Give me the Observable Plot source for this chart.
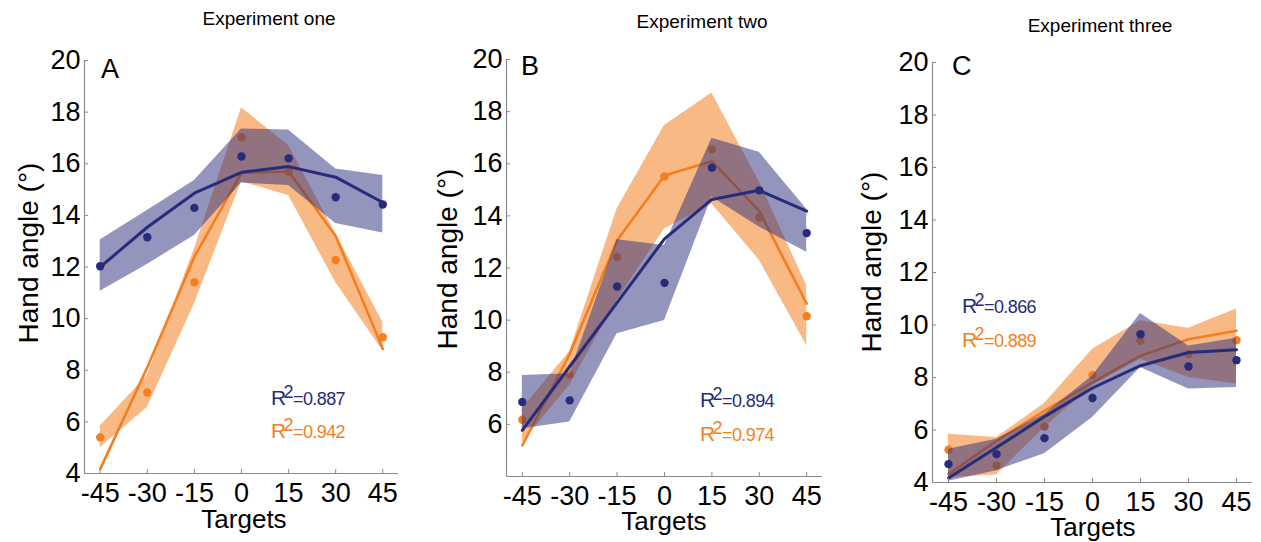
<!DOCTYPE html>
<html>
<head>
<meta charset="utf-8">
<script src="https://cdn.jsdelivr.net/npm/d3@7"></script>
<script src="https://cdn.jsdelivr.net/npm/@observablehq/plot@0.6"></script>
<style>
  html, body { margin: 0; padding: 0; background: #fff; }
  #wrap { position: relative; width: 1261px; height: 542px; overflow: hidden; }
  #wrap > svg { position: absolute; top: 0; }
</style>
</head>
<body>
<div id="wrap"></div>
<script>
// ---------- data ----------
const targets = [-45, -30, -15, 0, 15, 30, 45];

// Experiment one (A)
const blueDotsA   = [12.03, 13.15, 14.29, 16.28, 16.21, 14.70, 14.42];
const blueFitA    = [12.00, 13.54, 14.86, 15.67, 15.89, 15.48, 14.50];
const blueHiA     = [13.05, 14.19, 15.35, 17.35, 17.31, 15.80, 15.54];
const blueLoA     = [11.06, 12.10, 13.22, 15.25, 15.16, 13.69, 13.32];
const orangeDotsA = [5.40, 7.14, 11.41, 17.03, 15.70, 12.27, 9.28];
const orangeFitA  = [4.17, 8.11, 12.40, 15.65, 15.70, 13.20, 8.83];
const orangeHiA   = [5.83, 7.80, 12.70, 18.17, 16.71, 13.30, 9.86];
const orangeLoA   = [5.00, 6.56, 10.57, 15.30, 14.77, 11.40, 8.76];

// Experiment two (B)
const blueDotsB   = [6.86, 6.92, 11.29, 11.43, 15.85, 14.98, 13.34];
const blueFitB    = [5.77, 8.22, 10.67, 13.12, 14.63, 14.98, 14.18];
const blueHiB     = [7.88, 7.94, 13.08, 12.86, 16.98, 16.44, 14.25];
const blueLoB     = [5.83, 6.09, 9.48, 9.99, 14.72, 13.57, 12.60];
const orangeDotsB = [6.18, 7.91, 12.42, 15.51, 16.55, 13.95, 10.15];
const orangeFitB  = [5.19, 8.70, 13.06, 15.55, 16.10, 14.18, 10.63];
const orangeHiB   = [6.60, 8.80, 14.27, 17.47, 18.71, 15.30, 11.33];
const orangeLoB   = [5.30, 7.50, 10.76, 13.50, 14.46, 12.30, 9.03];

// Experiment three (C)
const blueDotsC   = [4.70, 5.08, 5.69, 7.22, 9.65, 8.42, 8.66];
const blueFitC    = [4.17, 5.33, 6.51, 7.60, 8.45, 8.95, 9.06];
const blueHiC     = [5.27, 5.65, 6.60, 8.06, 10.44, 9.20, 9.50];
const blueLoC     = [4.05, 4.45, 5.10, 6.48, 8.38, 7.56, 7.62];
const orangeDotsC = [5.25, 4.64, 6.13, 8.09, 9.40, 8.89, 9.42];
const orangeFitC  = [4.32, 5.59, 6.73, 7.81, 8.83, 9.46, 9.78];
const orangeHiC   = [5.84, 5.71, 7.01, 9.08, 10.16, 9.88, 10.61];
const orangeLoC   = [4.19, 4.29, 6.10, 7.70, 8.70, 8.00, 7.75];

const titles   = ["Experiment one", "Experiment two", "Experiment three"];
const letters  = ["A", "B", "C"];
const r2Blue   = ["0.887", "0.894", "0.866"];
const r2Orange = ["0.942", "0.974", "0.889"];
const yTicksA  = [4, 6, 8, 10, 12, 14, 16, 18, 20];
const yTicksB  = [6, 8, 10, 12, 14, 16, 18, 20];
const yTicksC  = [4, 6, 8, 10, 12, 14, 16, 18, 20];
const yLabel   = "Hand angle (°)";
const xLabel   = "Targets";

// ---------- style ----------
const NAVY = "#272b7b";
const ORANGE = "#f47f20";
const AXIS = "#8a8a8a";
const FONT = "'Liberation Sans', Arial, Helvetica, sans-serif";

const rows = (dots, fit, lo, hi) =>
  targets.map((t, i) => ({t, dot: dots[i], fit: fit[i], lo: lo[i], hi: hi[i]}));

const panels = [
  {left: 0, width: 420, ml: 84, mr: 22, mt: 60, mb: 69,
   blue: rows(blueDotsA, blueFitA, blueLoA, blueHiA),
   orange: rows(orangeDotsA, orangeFitA, orangeLoA, orangeHiA), yTicks: yTicksA},
  {left: 420, width: 420, ml: 86, mr: 18, mt: 59, mb: 66,
   blue: rows(blueDotsB, blueFitB, blueLoB, blueHiB),
   orange: rows(orangeDotsB, orangeFitB, orangeLoB, orangeHiB), yTicks: yTicksB},
  {left: 840, width: 421, ml: 92, mr: 9, mt: 62, mb: 60,
   blue: rows(blueDotsC, blueFitC, blueLoC, blueHiC),
   orange: rows(orangeDotsC, orangeFitC, orangeLoC, orangeHiC), yTicks: yTicksC}
];

const wrap = document.getElementById("wrap");
const hyphen = d => String(d);

panels.forEach(p => {
  const chart = Plot.plot({
    width: p.width, height: 542,
    marginLeft: p.ml, marginRight: p.mr, marginTop: p.mt, marginBottom: p.mb,
    x: {domain: [-50, 50]},
    y: {domain: [4, 20]},
    style: {fontFamily: FONT, background: "transparent", overflow: "visible", color: "black"},
    marks: [
      Plot.areaY(p.orange, {x: "t", y1: "lo", y2: "hi", fill: ORANGE, fillOpacity: 0.55}),
      Plot.line(p.orange, {x: "t", y: "fit", stroke: ORANGE, strokeWidth: 2.6}),
      Plot.dot(p.orange, {x: "t", y: "dot", r: 4.2, fill: ORANGE}),
      Plot.areaY(p.blue, {x: "t", y1: "lo", y2: "hi", fill: NAVY, fillOpacity: 0.5}),
      Plot.line(p.blue, {x: "t", y: "fit", stroke: NAVY, strokeWidth: 3}),
      Plot.dot(p.blue, {x: "t", y: "dot", r: 4.2, fill: NAVY}),
      Plot.ruleX([-50], {stroke: AXIS, strokeWidth: 1.2}),
      Plot.ruleY([4], {stroke: AXIS, strokeWidth: 1.2}),
      Plot.axisY({ticks: p.yTicks, tickSize: -4, tickPadding: 8, stroke: AXIS, fill: "black",
                  fontSize: 27, label: null, tickFormat: hyphen}),
      Plot.axisX({ticks: targets, tickSize: -4, tickPadding: 13, stroke: AXIS, fill: "black",
                  fontSize: 27, label: null, tickFormat: hyphen})
    ]
  });
  chart.style.left = p.left + "px";
  wrap.appendChild(chart);
});

// ---------- overlay text ----------
const ov = d3.select(wrap).append("svg")
  .attr("width", 1261).attr("height", 542)
  .style("left", "0px").style("pointer-events", "none")
  .style("font-family", FONT);

const titlePos = [[269, 25], [702, 28], [1100, 32]];
const letterPos = [[101, 78], [521, 75], [952, 75]];
const yLabPos = [[28, 253], [447, 259], [871, 262]];
const xLabPos = [[244, 528], [664, 530], [1093, 536]];
const r2Pos = [[271, 405, 438], [700, 407, 441], [962, 313, 347]];

titles.forEach((t, i) => {
  ov.append("text").attr("x", titlePos[i][0]).attr("y", titlePos[i][1])
    .attr("text-anchor", "middle").attr("font-size", 19).text(t);
  ov.append("text").attr("x", letterPos[i][0]).attr("y", letterPos[i][1])
    .attr("font-size", 27).text(letters[i]);
  ov.append("text")
    .attr("transform", `translate(${yLabPos[i][0]},${yLabPos[i][1]}) rotate(-90)`)
    .attr("text-anchor", "middle").attr("dominant-baseline", "central")
    .attr("font-size", 28).text(yLabel);
  ov.append("text").attr("x", xLabPos[i][0]).attr("y", xLabPos[i][1])
    .attr("text-anchor", "middle").attr("font-size", 26).text(xLabel);

  [[r2Blue[i], NAVY, r2Pos[i][1]], [r2Orange[i], ORANGE, r2Pos[i][2]]].forEach(([v, c, y]) => {
    const t = ov.append("text").attr("x", r2Pos[i][0]).attr("y", y).attr("fill", c)
      .attr("letter-spacing", -0.6);
    t.append("tspan").attr("font-size", 21).text("R");
    t.append("tspan").attr("font-size", 18).attr("dx", -2).attr("dy", -7).text("2");
    t.append("tspan").attr("font-size", 18).attr("dy", 7).text("=" + v);
  });
});
</script>
</body>
</html>
